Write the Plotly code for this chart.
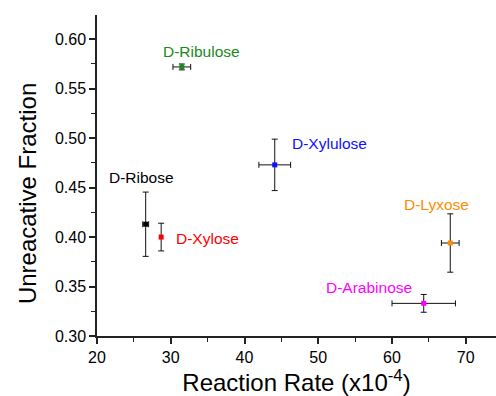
import plotly.graph_objects as go

names = ["D-Ribulose", "D-Xylulose", "D-Ribose", "D-Xylose", "D-Lyxose", "D-Arabinose"]
rate = [31.5, 44.1, 26.6, 28.7, 67.9, 64.3]
rate_err = [1.2, 2.15, 0.4, 0.0, 1.2, 4.3]
fraction = [0.572, 0.473, 0.413, 0.400, 0.394, 0.333]
fraction_err = [0.003, 0.026, 0.0325, 0.014, 0.0295, 0.009]
colors = ["#1a8a1a", "#1010ff", "#000000", "#ff0000", "#ff8c00", "#ff00ff"]
x_title = "Reaction Rate (x10<sup>-4</sup>)"
y_title = "Unreacative Fraction"

# label offsets (pixels) relative to each point
label_dx = [20, 15, -4, 13, -14, -55]
label_dy = [-15, -21, -47, 1, -39, -16]
label_anchor = ["center", "left", "center", "left", "center", "center"]

fig = go.Figure()
for i in range(len(names)):
    fig.add_trace(go.Scatter(
        x=[rate[i]], y=[fraction[i]], mode="markers",
        marker=dict(symbol="square", size=5, color=colors[i]),
        error_x=dict(type="data", array=[rate_err[i]], color="#111111", thickness=1, width=3, visible=rate_err[i] > 0),
        error_y=dict(type="data", array=[fraction_err[i]], color="#111111", thickness=1, width=3),
        showlegend=False,
    ))
    fig.add_annotation(
        x=rate[i], y=fraction[i], text=names[i], showarrow=False,
        xshift=label_dx[i], yshift=-label_dy[i],
        xanchor=label_anchor[i], yanchor="middle",
        font=dict(color=colors[i], size=15.5, family="Liberation Sans, Arial"),
    )

# y-axis title (placed slightly below plot centre, as in the reference)
fig.add_annotation(
    xref="paper", yref="paper", x=0, y=0.442, xshift=-70, xanchor="center", yanchor="middle",
    text=y_title, textangle=-90, showarrow=False,
    font=dict(size=24, family="Liberation Sans, Arial", color="black"),
)

fig.update_layout(
    width=496, height=396,
    margin=dict(l=97, r=0, t=15, b=60),
    plot_bgcolor="white", paper_bgcolor="white",
    font=dict(family="Liberation Sans, Arial", color="black"),
)
fig.update_xaxes(
    range=[20, 74.1], tickvals=[20, 30, 40, 50, 60, 70], showgrid=False, zeroline=False,
    showline=True, linecolor="#222222", linewidth=1.5, ticks="outside", ticklen=6, tickwidth=1.5,
    tickcolor="#222222", tickfont=dict(size=16),
    minor=dict(tickvals=[25, 35, 45, 55, 65], ticks="outside", ticklen=4, tickwidth=1, tickcolor="#222222"),
    title=dict(text=x_title, font=dict(size=24), standoff=2),
)
fig.update_yaxes(
    range=[0.30, 0.6245], tickvals=[0.30, 0.35, 0.40, 0.45, 0.50, 0.55, 0.60], tickformat=".2f",
    showgrid=False, zeroline=False,
    showline=True, linecolor="#222222", linewidth=1.5, ticks="outside", ticklen=6, tickwidth=1.5,
    tickcolor="#222222", tickfont=dict(size=16),
    minor=dict(tickvals=[0.325, 0.375, 0.425, 0.475, 0.525, 0.575], ticks="outside", ticklen=4, tickwidth=1, tickcolor="#222222"),
)

fig.write_html("out.html")
